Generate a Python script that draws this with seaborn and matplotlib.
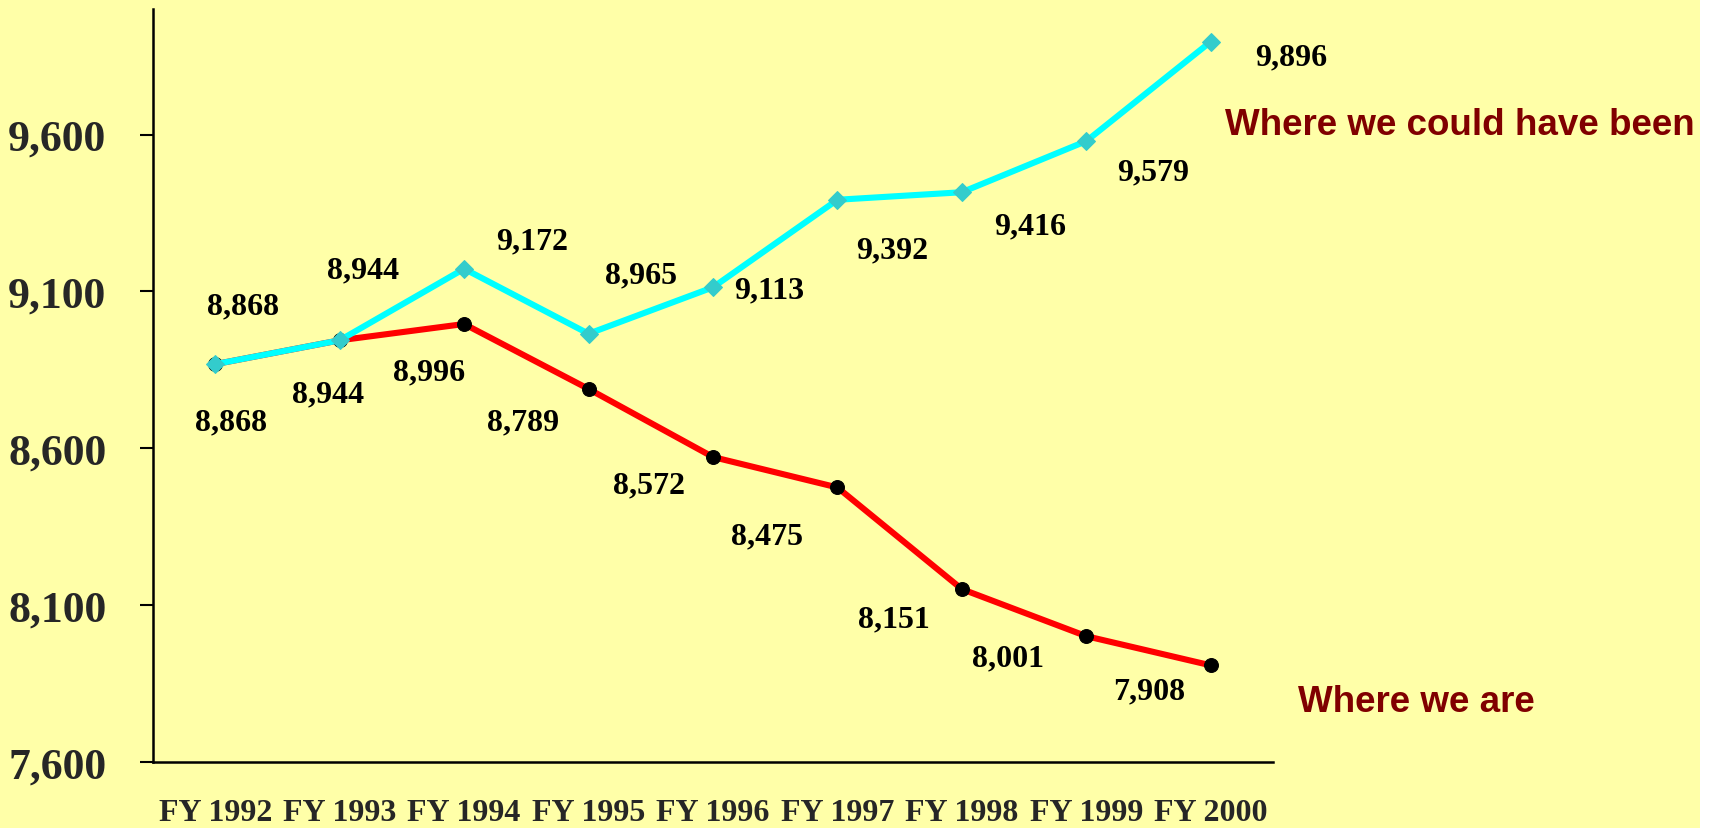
import matplotlib
matplotlib.use("Agg")
import matplotlib.pyplot as plt
import numpy as np
import pandas as pd
import seaborn as sns
from matplotlib.patches import Rectangle

years = ["FY 1992", "FY 1993", "FY 1994", "FY 1995", "FY 1996",
         "FY 1997", "FY 1998", "FY 1999", "FY 2000"]
could_have_been = [8868, 8944, 9172, 8965, 9113, 9392, 9416, 9579, 9896]
where_we_are = [8868, 8944, 8996, 8789, 8572, 8475, 8151, 8001, 7908]
y_ticks = [7600, 8100, 8600, 9100, 9600]

# label offsets in pixels, relative to each point
cyan_offsets = [(28, 58), (23, 70), (68, 28), (52, 59), (56, -3),
                (55, -50), (68, -34), (67, -31), (80, -15)]
red_offsets = [(16, -58), (-12, -54), (-35, -48), (-65, -33), (-64, -28),
               (-70, -48), (-68, -30), (-78, -22), (-62, -26)]

bg = "#FFFFA8"
serif = ["Liberation Serif", "DejaVu Serif"]
sans = ["Liberation Sans", "DejaVu Sans"]

sns.set_style("white")

df = pd.DataFrame({"year": years, "could": could_have_been, "are": where_we_are})
x = np.arange(len(years))

fig = plt.figure(figsize=(17.2, 8.29), dpi=100, facecolor=bg)
# thin white strip on the right edge
fig.patches.append(Rectangle((1700 / 1720, 0), 20 / 1720, 1, transform=fig.transFigure,
                             facecolor="white", edgecolor="none", zorder=-1))
ax = fig.add_axes([153 / 1720, 1 - 763 / 829, 1120 / 1720, 753 / 829])
ax.set_facecolor(bg)

# red first, cyan drawn on top
sns.lineplot(x=x, y=df["are"], ax=ax, color="#FF0000", linewidth=4.4,
             marker="o", markersize=10, markerfacecolor="black",
             markeredgecolor="black", zorder=3)
sns.lineplot(x=x, y=df["could"], ax=ax, color="#00FFFF", linewidth=4.4,
             marker="D", markersize=9, markerfacecolor="#33CCCC",
             markeredgecolor="#33CCCC", zorder=4)

for i, v in enumerate(could_have_been):
    ax.annotate(f"{v:,}", (x[i], v), xytext=cyan_offsets[i], textcoords="offset pixels",
                ha="center", va="center", fontsize=23, fontweight="bold",
                family=serif, color="black", annotation_clip=False)
for i, v in enumerate(where_we_are):
    ax.annotate(f"{v:,}", (x[i], v), xytext=red_offsets[i], textcoords="offset pixels",
                ha="center", va="center", fontsize=23, fontweight="bold",
                family=serif, color="black", annotation_clip=False)

ax.text(0.957, 0.846, "Where we could have been", transform=ax.transAxes,
        ha="left", va="center", fontsize=26.5, fontweight="bold", family=sans,
        color="#800000", clip_on=False)
ax.text(1.022, 0.08, "Where we are", transform=ax.transAxes,
        ha="left", va="center", fontsize=26.5, fontweight="bold", family=sans,
        color="#800000", clip_on=False)

ax.set_xlim(-0.5, len(years) - 0.5)
ax.set_ylim(7600, 10000)
ax.set_xlabel("")
ax.set_ylabel("")

# boundary ticks on x, labels at category centres
ax.set_xticks(np.arange(len(years) + 1) - 0.5)
ax.set_xticklabels([])
ax.set_xticks(x, minor=True)
ax.set_xticklabels(years, minor=True, fontsize=23, fontweight="bold", family=serif)
ax.tick_params(axis="x", which="major", direction="out", length=9, width=1.5, color="black")
ax.tick_params(axis="x", which="minor", length=0, pad=26)

ax.set_yticks(y_ticks)
ax.set_yticklabels([f"{v:,}" for v in y_ticks], fontsize=31.5, fontweight="bold", family=serif)
ax.tick_params(axis="y", direction="out", length=9.5, width=1.5, color="black", pad=24, left=True)

for side in ["top", "right"]:
    ax.spines[side].set_visible(False)
for side in ["left", "bottom"]:
    ax.spines[side].set_color("black")
    ax.spines[side].set_linewidth(1.8)

fig.savefig("out.png", dpi=100, facecolor=bg)
